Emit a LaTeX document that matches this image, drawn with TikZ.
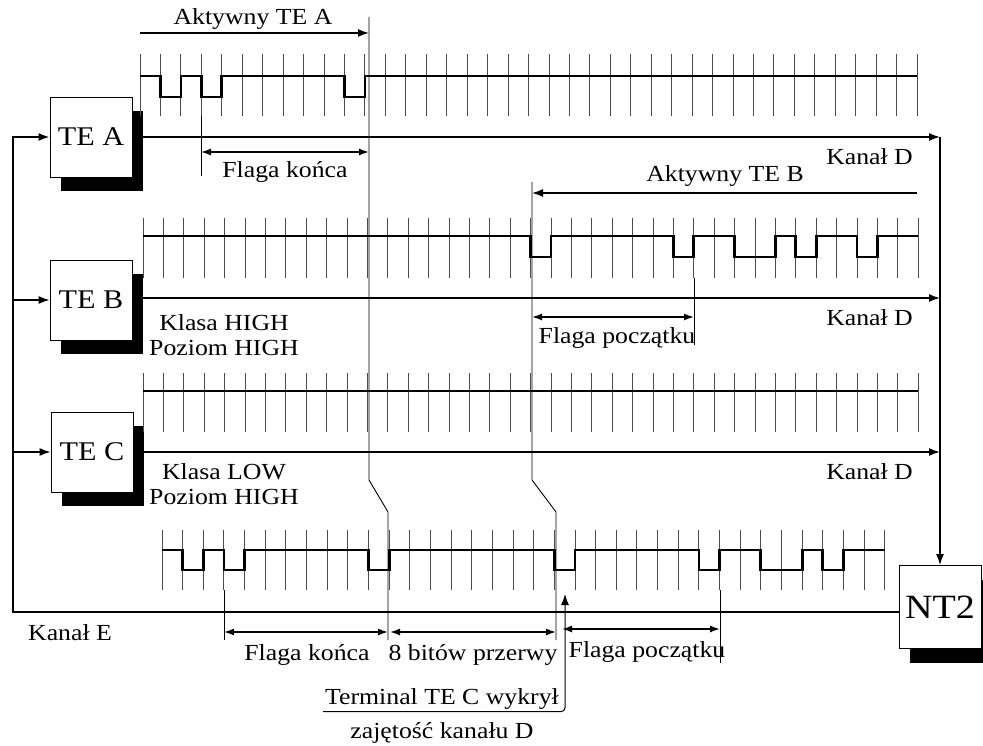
\documentclass[tikz,border=0pt]{standalone}
\usepackage{fontspec}
\setmainfont{Liberation Serif}[FakeStretch=1.12]
\usetikzlibrary{arrows.meta, shadows, calc}

\begin{document}
\begin{tikzpicture}[
    x=1pt, y=-1pt,
    font=\fontsize{23}{25}\selectfont,
    box/.style={rectangle, draw, thick, fill=white, minimum width=82pt, minimum height=80pt, font=\fontsize{27}{29}\selectfont, drop shadow={shadow xshift=11pt, shadow yshift=-14pt, fill=black, opacity=1}},
    arrow/.style={-{Latex[length=11pt, width=8pt]}, line width=1.5pt},
    dim/.style={{Latex[length=10pt, width=7pt]}-{Latex[length=10pt, width=7pt]}, line width=1.4pt},
    dline/.style={line width=2.8pt},
    sig/.style={line width=2.8pt, line join=miter},
    tick/.style={line width=1pt, black!70},
    guide/.style={line width=0.9pt},
    txt/.style={inner sep=2pt},
]
\useasboundingbox (0,0) rectangle (983,746);

% terminale i NT2
\node[box] (tea) at (91,137) {TE A};
\node[box] (teb) at (91,300) {TE B};
\node[box] (tec) at (92,452) {TE C};
\node[box, minimum height=83pt, font=\fontsize{34}{36}\selectfont] (nt2) at (940,607) {NT2};

\coordinate (dA) at (940,137);
\coordinate (dB) at (940,298);
\coordinate (dC) at (940,452);
\coordinate (eA) at (13,137);
\coordinate (eB) at (13,300);
\coordinate (eC) at (13,452);

% kanal D
\draw[dline, arrow] (tea) -- (dA);
\draw[dline, arrow] (teb.east |- dB) -- (dB);
\draw[dline, arrow] (tec) -- (dC);
\draw[dline, arrow] (dA) -- (nt2);

% kanal E
\draw[arrow, line width=1.8pt] ([yshift=-5pt]nt2.west) -| (eA) -- (tea);
\draw[arrow] (eB) -- (teb);
\draw[arrow] (eC) -- (tec);

% przebieg TE A
\begin{scope}[xshift=140pt, x=20.45pt]
  \foreach \k in {0,...,38} \draw[tick] (\k,54) -- (\k,116);
  \draw[sig] (0,76) -| (1,97) -| (2,76) -| (3,97) -| (4,76) -| (10,97) -| (11,76) -- (38,76);
\end{scope}

% przebieg TE B
\begin{scope}[xshift=143pt, x=20.4pt]
  \foreach \k in {0,...,38} \draw[tick] (\k,218) -- (\k,278);
  \draw[sig] (0,236) -| (19,257) -| (20,236) -| (26,257) -| (27,236) -| (29,257) -| (31,236) -| (32,257) -| (33,236) -| (35,257) -| (36,236) -- (38,236);
\end{scope}

% przebieg TE C
\begin{scope}[xshift=143pt, x=20.4pt]
  \foreach \k in {0,...,38} \draw[tick] (\k,373) -- (\k,432);
  \draw[sig] (0,391) -- (38,391);
\end{scope}

% kanal E - echo
\begin{scope}[xshift=162pt, x=20.65pt]
  \foreach \k in {0,...,35} \draw[tick] (\k,530) -- (\k,590);
  \draw[sig] (0,550) -| (1,570) -| (2,550) -| (3,570) -| (4,550) -| (10,570) -| (11,550) -| (19,570) -| (20,550) -| (26,570) -| (27,550) -| (29,570) -| (31,550) -| (32,570) -| (33,550) -- (35,550);
\end{scope}

% opisy TE A
\node[txt] (actA) at (253,19) {Aktywny TE A};
\draw[arrow] (140,33) -- (369,33);
\draw[guide] (369,17) -- (369,480) -- (388,512) -- (388,640);
\draw[guide] (201,116) -- (201,176);
\draw[dim] (201,152) -- (369,152);
\node[txt] (endA) at (285,172) {Flaga końca};
\node[txt, anchor=east] (kdA) at (915,157) {Kanał D};

% opisy TE B
\node[txt] (actB) at (725,176) {Aktywny TE B};
\draw[arrow] (917,193) -- (532,193);
\draw[guide] (532,182) -- (532,480) -- (556,512) -- (556,640);
\draw[guide] (694,278) -- (694,345);
\draw[dim] (532,317) -- (694,317);
\node[txt] (startB) at (617,338) {Flaga początku};
\node[txt, anchor=east] (kdB) at (915,318) {Kanał D};
\node[txt, align=center] (clsB) at (224,335) {Klasa HIGH\\Poziom HIGH};

% opisy TE C
\node[txt, anchor=east] (kdC) at (915,472) {Kanał D};
\node[txt, align=center] (clsC) at (224,484) {Klasa LOW\\Poziom HIGH};

% opisy kanalu E
\node[txt] (ke) at (70,633) {Kanał E};
\draw[guide] (224,590) -- (224,640);
\draw[guide] (720,590) -- (720,663);
\draw[dim] (224,632) -- (388,632);
\draw[dim] (390,632) -- (556,632);
\draw[dim] (562,629) -- (720,629);
\node[txt] (endE) at (307,655) {Flaga końca};
\node[txt] (gapE) at (473,655) {8 bitów przerwy};
\node[txt] (startE) at (647,652) {Flaga początku};

\node[txt] (det) at (442,699) {Terminal TE C wykrył};
\node[txt] (busy) at (442,733) {zajętość kanału D};
\coordinate (hit) at (565,594);
\draw[arrow, line width=1pt, rounded corners=4pt] (det.south west) -| (hit);

\end{tikzpicture}
\end{document}
